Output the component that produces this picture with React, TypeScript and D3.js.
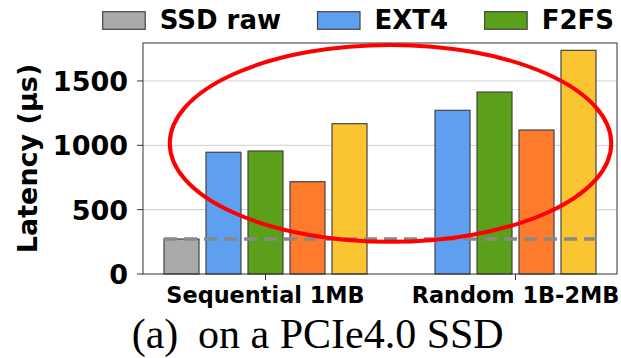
import React, { useEffect, useRef } from "react";
import * as d3 from "d3";

const categories = ["Sequential 1MB", "Random 1B-2MB"];
const seriesNames = ["SSD raw", "EXT4", "F2FS", "XFS", "Btrfs"];
const seriesColors = ["#aaaaaa", "#5f9fef", "#5aa01a", "#fd7b2b", "#fbc531"];
const sequentialValues: (number | null)[] = [272, 946, 956, 717, 1168];
const randomValues: (number | null)[] = [null, 1272, 1414, 1119, 1738];
const legendVisible = 3;
const yTicks = [0, 500, 1000, 1500];
const rawBaseline = 272;
const highlightRange = [250, 1780];
const captionLabel = "(a)";
const captionText = "on a PCIe4.0 SSD";

const W = 621;
const H = 358;
const plot = { left: 143, right: 617, top: 43, bottom: 274 };
const BAR_W = 0.14;
const BAR_STEP = 0.168;
const X_MARGIN = 0.084;
const Y_MAX = 1795;
const AX_FONT = "'DejaVu Sans', sans-serif";

export default function App() {
  const ref = useRef<SVGSVGElement | null>(null);

  useEffect(() => {
    const svg = d3.select(ref.current);
    svg.selectAll("*").remove();

    const groups = [sequentialValues, randomValues];
    type Bar = { g: number; s: number; v: number; left: number };
    const bars: Bar[] = [];
    groups.forEach((vals, g) => {
      const present = vals.map((v, s) => ({ v, s })).filter((d) => d.v != null);
      const n = present.length;
      present.forEach((d, i) => {
        const center = g + (i - (n - 1) / 2) * BAR_STEP;
        bars.push({ g, s: d.s, v: d.v as number, left: center - BAR_W / 2 });
      });
    });
    const minX = d3.min(bars, (b) => b.left)! - X_MARGIN;
    const maxX = d3.max(bars, (b) => b.left + BAR_W)! + X_MARGIN;

    const x = d3.scaleLinear().domain([minX, maxX]).range([plot.left, plot.right]);
    const y = d3.scaleLinear().domain([0, Y_MAX]).range([plot.bottom, plot.top]);

    // grid
    svg
      .append("g")
      .selectAll("line")
      .data(yTicks.filter((t) => t > 0))
      .join("line")
      .attr("x1", plot.left)
      .attr("x2", plot.right)
      .attr("y1", (d) => y(d))
      .attr("y2", (d) => y(d))
      .attr("stroke", "#cfcfcf")
      .attr("stroke-width", 1);

    // bars
    svg
      .append("g")
      .selectAll("rect")
      .data(bars)
      .join("rect")
      .attr("x", (d) => x(d.left))
      .attr("width", (d) => x(d.left + BAR_W) - x(d.left))
      .attr("y", (d) => y(d.v))
      .attr("height", (d) => y(0) - y(d.v))
      .attr("fill", (d) => seriesColors[d.s])
      .attr("stroke", "#444")
      .attr("stroke-width", 1.2);

    // dashed baseline
    const bMin = d3.min(bars, (b) => b.left)!;
    const bMax = d3.max(bars, (b) => b.left + BAR_W)!;
    svg
      .append("line")
      .attr("x1", x(bMin))
      .attr("x2", x(bMax))
      .attr("y1", y(rawBaseline))
      .attr("y2", y(rawBaseline))
      .attr("stroke", "#888888")
      .attr("stroke-width", 3.6)
      .attr("stroke-dasharray", "13,7");

    // frame
    svg
      .append("rect")
      .attr("x", plot.left)
      .attr("y", plot.top)
      .attr("width", plot.right - plot.left)
      .attr("height", plot.bottom - plot.top)
      .attr("fill", "none")
      .attr("stroke", "#333")
      .attr("stroke-width", 1);

    // y ticks
    const yt = svg.append("g");
    yTicks.forEach((t) => {
      yt.append("line")
        .attr("x1", plot.left - 6)
        .attr("x2", plot.left)
        .attr("y1", y(t))
        .attr("y2", y(t))
        .attr("stroke", "#333");
      yt.append("text")
        .attr("x", plot.left - 15)
        .attr("y", y(t) + 10)
        .attr("text-anchor", "end")
        .attr("font-family", AX_FONT)
        .attr("font-weight", "bold")
        .attr("font-size", 27)
        .text(String(t));
    });

    // x ticks
    categories.forEach((c, g) => {
      svg
        .append("line")
        .attr("x1", x(g))
        .attr("x2", x(g))
        .attr("y1", plot.bottom)
        .attr("y2", plot.bottom + 6)
        .attr("stroke", "#333");
      svg
        .append("text")
        .attr("x", x(g))
        .attr("y", 303)
        .attr("text-anchor", "middle")
        .attr("font-family", AX_FONT)
        .attr("font-weight", "bold")
        .attr("font-size", 22.4)
        .text(c);
    });

    // y label
    svg
      .append("text")
      .attr("transform", `translate(37,${(plot.top + plot.bottom) / 2}) rotate(-90)`)
      .attr("text-anchor", "middle")
      .attr("font-family", AX_FONT)
      .attr("font-weight", "bold")
      .attr("font-size", 27)
      .text("Latency (\u00b5s)");

    // legend (only the entries visible within the figure width)
    let lx = 102.7;
    seriesNames.slice(0, legendVisible).forEach((name, i) => {
      svg
        .append("rect")
        .attr("x", lx)
        .attr("y", 11.7)
        .attr("width", 42.5)
        .attr("height", 17.6)
        .attr("fill", seriesColors[i])
        .attr("stroke", "#444")
        .attr("stroke-width", 1.2);
      const t = svg
        .append("text")
        .attr("x", lx + 57)
        .attr("y", 29.3)
        .attr("font-family", AX_FONT)
        .attr("font-weight", "bold")
        .attr("font-size", 26)
        .text(name);
      const len = (t.node() as SVGTextElement).getComputedTextLength();
      lx = lx + 57 + len + 36.5;
    });

    // highlight ellipse
    const cx = x(0.5);
    svg
      .append("ellipse")
      .attr("cx", cx)
      .attr("cy", y((highlightRange[0] + highlightRange[1]) / 2))
      .attr("rx", x(0.5 + 0.883) - cx)
      .attr("ry", (y(highlightRange[0]) - y(highlightRange[1])) / 2)
      .attr("fill", "none")
      .attr("stroke", "#ff0000")
      .attr("stroke-width", 4);

    // caption
    const cap = svg
      .append("text")
      .attr("y", 348)
      .attr("font-family", "'Liberation Serif', 'Times New Roman', serif")
      .attr("font-size", 42);
    cap.append("tspan").attr("x", 131.7).text(captionLabel);
    cap.append("tspan").attr("x", 198).text(captionText);
  }, []);

  return (
    <svg
      ref={ref}
      width={W}
      height={H}
      style={{ position: "absolute", left: 0, top: 0, background: "#fff" }}
    />
  );
}
